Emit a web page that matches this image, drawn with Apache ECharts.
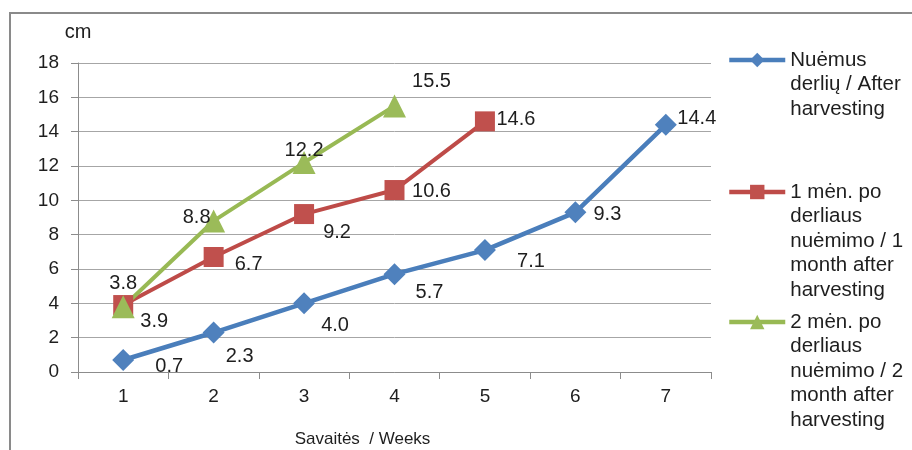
<!DOCTYPE html>
<html>
<head>
<meta charset="utf-8">
<script src="https://cdn.jsdelivr.net/npm/echarts@6/dist/echarts.min.js"></script>
<style>
  html, body { margin: 0; padding: 0; background: #fff; }
  #chart { width: 912px; height: 450px; }
</style>
</head>
<body>
<div id="chart"></div>
<script>
// Weekly growth (cm) for three harvesting times
const weeks = ['1', '2', '3', '4', '5', '6', '7'];
const yTicks = [0, 2, 4, 6, 8, 10, 12, 14, 16, 18];

const nameAfter = 'Nuėmus derlių / After harvesting';
const name1Month = '1 mėn. po derliaus nuėmimo / 1 month after harvesting';
const name2Month = '2 mėn. po derliaus nuėmimo / 2 month after harvesting';

const afterHarvest = [0.7, 2.3, 4.0, 5.7, 7.1, 9.3, 14.4];
const oneMonthAfter = [3.9, 6.7, 9.2, 10.6, 14.6];
const twoMonthsAfter = [3.8, 8.8, 12.2, 15.5];

// Wrapped legend text for each series
const legendLines = {};
legendLines[nameAfter] = ['Nuėmus', 'derlių / After', 'harvesting'];
legendLines[name1Month] = ['1 mėn. po', 'derliaus', 'nuėmimo / 1', 'month after', 'harvesting'];
legendLines[name2Month] = ['2 mėn. po', 'derliaus', 'nuėmimo / 2', 'month after', 'harvesting'];

// Value-label offsets from the marker centre (styling only)
const offAfter = [[46, 7], [26, 24], [31, 22], [35, 18], [46, 11], [32, 2], [31, -6]];
const off1Month = [[31, 16], [35, 8], [33, 18], [37, 1], [31, -2]];
const off2Month = [[0, -23], [-17, -3], [0, -12], [37, -24]];

const FONT = '"Liberation Sans", Arial, sans-serif';
const TEXT = '#1e1e1e';
const LH = 24.5;

function points(values, offsets) {
  return values.map((v, i) => ({
    value: v,
    label: { offset: offsets[i] }
  }));
}

function lineSeries(name, values, offsets, color, markColor, symbol, size, width) {
  return {
    name: name,
    type: 'line',
    data: points(values, offsets),
    symbol: symbol,
    symbolSize: size,
    lineStyle: { color: color, width: width },
    itemStyle: { color: markColor, borderColor: markColor, borderWidth: 0 },
    label: {
      show: true,
      position: 'inside',
      formatter: p => p.value.toFixed(1),
      color: TEXT,
      fontSize: 20,
      fontFamily: FONT
    },
    emphasis: { disabled: true },
    animation: false
  };
}

// One legend block per series; blank leading lines keep the icon level
// with the first line of the wrapped text.
function legendFor(name, iconCenterY, color) {
  const lines = legendLines[name];
  const n = lines.length;
  const blank = new Array(n - 1).fill('');
  return {
    data: [name],
    left: 727,
    top: iconCenterY - (2 * n - 1) * LH / 2,
    padding: 0,
    itemWidth: 56,
    itemHeight: 18,
    selectedMode: false,
    lineStyle: { width: 4.5, color: color },
    formatter: () => blank.concat(lines).join('\n'),
    textStyle: {
      color: TEXT,
      fontSize: 20.5,
      fontFamily: FONT,
      lineHeight: LH
    }
  };
}

const chart = echarts.init(document.getElementById('chart'), null, { renderer: 'canvas' });

chart.setOption({
  backgroundColor: '#fff',
  animation: false,
  textStyle: { fontFamily: FONT },
  grid: { left: 78, right: 201, top: 63, bottom: 78, containLabel: false, outerBoundsMode: 'none' },
  graphic: [{
    type: 'rect',
    shape: { x: 10, y: 13, width: 910, height: 450 },
    style: { fill: 'none', stroke: '#8a8a8a', lineWidth: 2 },
    silent: true,
    z: -10
  }],
  legend: [
    legendFor(nameAfter, 60, '#4A7EBB'),
    legendFor(name1Month, 192, '#BE4B48'),
    legendFor(name2Month, 322, '#98B954')
  ],
  xAxis: {
    type: 'category',
    data: weeks,
    boundaryGap: true,
    name: 'Savaitės  / Weeks',
    nameLocation: 'middle',
    nameGap: 59,
    nameTextStyle: { color: TEXT, fontSize: 17, fontFamily: FONT, padding: [0, 64, 0, 0] },
    axisLine: { lineStyle: { color: '#8c8c8c', width: 1 } },
    axisTick: { show: true, length: 7, lineStyle: { color: '#8c8c8c' } },
    axisLabel: { color: TEXT, fontSize: 19, fontFamily: FONT, margin: 15 },
    splitLine: { show: false }
  },
  yAxis: {
    type: 'value',
    min: yTicks[0],
    max: yTicks[yTicks.length - 1],
    interval: yTicks[1] - yTicks[0],
    name: 'cm',
    nameLocation: 'end',
    nameGap: 21,
    nameTextStyle: { color: TEXT, fontSize: 20, fontFamily: FONT, align: 'center' },
    axisLine: { show: true, lineStyle: { color: '#8c8c8c', width: 1 } },
    axisTick: { show: true, length: 7, lineStyle: { color: '#8c8c8c' } },
    axisLabel: { color: TEXT, fontSize: 19, fontFamily: FONT, margin: 19 },
    splitLine: { show: true, lineStyle: { color: '#a6a6a6', width: 1 } }
  },
  series: [
    lineSeries(nameAfter, afterHarvest, offAfter, '#4A7EBB', '#4F81BD', 'diamond', 22, 4.5),
    lineSeries(name1Month, oneMonthAfter, off1Month, '#BE4B48', '#C0504D', 'rect', 20, 4),
    lineSeries(name2Month, twoMonthsAfter, off2Month, '#98B954', '#9BBB59', 'triangle', 23, 4)
  ]
});
</script>
</body>
</html>
